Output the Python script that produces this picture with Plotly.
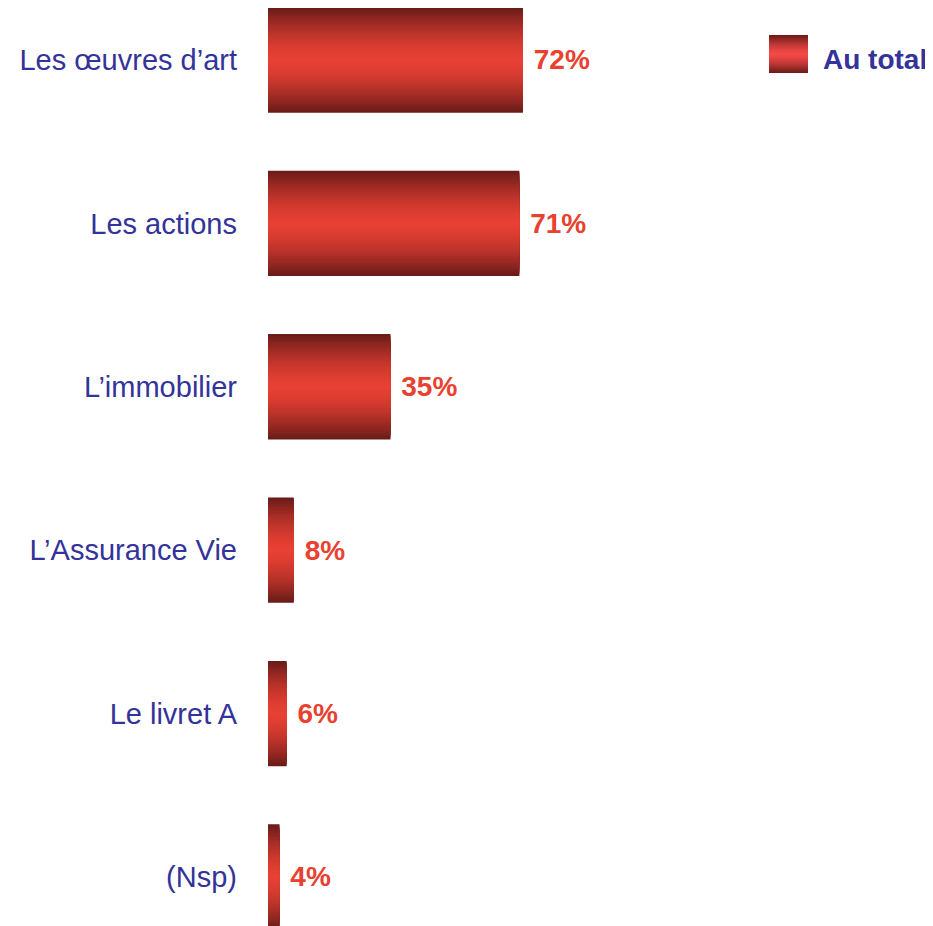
import plotly.graph_objects as go

categories = ["Les œuvres d’art", "Les actions", "L’immobilier", "L’Assurance Vie", "Le livret A", "(Nsp)"]
values = [72, 71, 35, 8, 6, 4]
value_labels = ["72%", "71%", "35%", "8%", "6%", "4%"]
series_name = "Au total"

DARK = (0x6b, 0x1c, 0x18)
BRIGHT = (0xe8, 0x40, 0x34)
LEG_BRIGHT = (0xf5, 0x4a, 0x48)
BLUE = "#333399"
RED = "#e8412f"
BAR_W = 0.645
N_LAYERS = 24

W, H = 925, 918
L = 260
PX_PER_UNIT = 3.58
BAR_BASE = 0.78  # the original chart's bars start slightly right of the value origin


def mix(t, bright=BRIGHT):
    c = [round(bright[i] + (DARK[i] - bright[i]) * t) for i in range(3)]
    return "rgb(%d,%d,%d)" % tuple(c)


fig = go.Figure()
for k in range(N_LAYERS):
    frac = 1 - k / N_LAYERS  # relative half-width of this layer
    t = frac ** 1.6
    fig.add_trace(go.Bar(
        y=categories, x=[v - BAR_BASE for v in values], base=BAR_BASE, orientation="h",
        width=BAR_W * frac,
        marker=dict(color=mix(t), line=dict(width=0)),
        showlegend=False, hoverinfo="skip" if k else "y+text",
        text=value_labels if k == 0 else None,
        texttemplate="\u2008%{text}" if k == 0 else None,
        textposition="outside" if k == 0 else "none",
        textfont=dict(family="Liberation Sans, Arial", size=28, color=RED, weight="bold"),
        constraintext="none",
        cliponaxis=False,
    ))

fig.update_layout(
    barmode="overlay",
    width=W, height=H,
    margin=dict(l=L, r=0, t=0, b=0, pad=0),
    paper_bgcolor="white", plot_bgcolor="white",
    font=dict(family="Liberation Sans, Arial", size=29, color=BLUE),
    xaxis=dict(range=[BAR_BASE, BAR_BASE + (W - L) / PX_PER_UNIT], visible=False, fixedrange=True),
    yaxis=dict(range=[5.30, -0.318], showgrid=False, zeroline=False, showline=False,
               ticks="", ticklabelstandoff=30,
               tickfont=dict(size=29, color=BLUE)),
    showlegend=False,
)

# legend swatch (gradient) + label, positioned in paper coords of plot area
PW = W - L


def px(xf):
    return (xf - L) / PW


def py(yf):
    return 1 - yf / H


x0, x1 = px(761), px(800)
y_top, y_bot = py(27), py(65)
ym = (y_top + y_bot) / 2
hh = (y_top - y_bot) / 2
for k in range(N_LAYERS):
    frac = 1 - k / N_LAYERS
    t = frac ** 1.4
    fig.add_shape(type="rect", xref="paper", yref="paper",
                  x0=x0, x1=x1, y0=ym - hh * frac, y1=ym + hh * frac,
                  fillcolor=mix(t, LEG_BRIGHT), line=dict(width=0), layer="above")
fig.add_annotation(xref="paper", yref="paper", x=px(813), y=py(51),
                   xanchor="left", yanchor="middle", showarrow=False,
                   text="<b>" + series_name + "</b>",
                   font=dict(family="Liberation Sans, Arial", size=28, color=BLUE))

fig.write_html("out.html")
